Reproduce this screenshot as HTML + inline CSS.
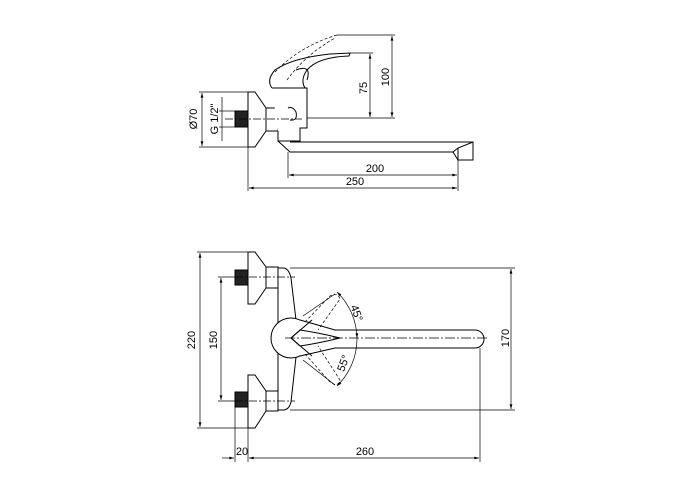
<!DOCTYPE html>
<html><head><meta charset="utf-8"><style>html,body{margin:0;padding:0;background:#fff}svg{display:block}text{font-family:"Liberation Sans",sans-serif;font-size:11px;fill:#000}</style></head><body>
<svg width="700" height="500" viewBox="0 0 700 500" xmlns="http://www.w3.org/2000/svg">
<defs><marker id="a" viewBox="0 0 10 6" refX="10" refY="3" markerWidth="8" markerHeight="4" orient="auto-start-reverse"><path d="M0,0L10,3L0,6z" fill="#000"/></marker></defs>
<g fill="none" stroke="#000" stroke-width="1">
<!-- TOP VIEW -->
<path d="M248,92 L255,92 L266,108 L266,131 L255,147 L248,147 Z" fill="#fff"/>
<rect x="266" y="108" width="12" height="23" fill="#fff"/>
<rect x="235" y="111" width="13" height="16" fill="#222"/>
<path d="M272,88 L307,88 L307,128 L300,128 L300,141 L278,141 L278,131" fill="#fff"/>
<path d="M290,120 Q298,121 296,112 Q293,106 288,108"/>
<path d="M278,141 L290,152 L453,152 L458,160 L473,160 L473,142 L290,142"/>
<path d="M453,152 L458,148 L473,142"/>
<line x1="458" y1="148" x2="458" y2="160"/>
<!-- handle -->
<path d="M272,88 Q266,80 275,70 Q292,58 330,54 L350,53 L349,56 Q318,57 307,70 Q300,80 305,88"/>
<path d="M296,70 Q312,64 307,80" />
<path d="M275,72 Q300,46 337,35" stroke-dasharray="3,2" stroke-width="0.7"/>
<path d="M287,80 Q305,55 335,38" stroke-dasharray="3,2" stroke-width="0.7"/>
<!-- dims top -->
<g stroke-width="0.7">
<line x1="337" y1="35" x2="395" y2="35"/><line x1="307" y1="118" x2="395" y2="118"/>
<line x1="350" y1="53" x2="373" y2="53"/>
<line x1="392" y1="36" x2="392" y2="117" marker-start="url(#a)" marker-end="url(#a)"/>
<line x1="370" y1="54" x2="370" y2="117" marker-start="url(#a)" marker-end="url(#a)"/>
<line x1="199" y1="92" x2="248" y2="92"/><line x1="199" y1="147" x2="248" y2="147"/>
<line x1="202" y1="93" x2="202" y2="146" marker-start="url(#a)" marker-end="url(#a)"/>
<line x1="222" y1="97" x2="222" y2="141"/>
<line x1="219" y1="111" x2="235" y2="111"/><line x1="219" y1="127" x2="235" y2="127"/>
<line x1="225" y1="119" x2="302" y2="119" stroke-dasharray="8,2,2,2"/>
<line x1="248" y1="147" x2="248" y2="191"/><line x1="288" y1="152" x2="288" y2="178"/><line x1="458" y1="160" x2="458" y2="191"/>
<line x1="289" y1="175" x2="457" y2="175" marker-start="url(#a)" marker-end="url(#a)"/>
<line x1="249" y1="188" x2="457" y2="188" marker-start="url(#a)" marker-end="url(#a)"/>
</g>
<!-- BOTTOM VIEW -->
<path d="M248,252 L255,252 L266,267 L266,288 L255,304 L248,304 Z" fill="#fff"/>
<rect x="266" y="267" width="12" height="21" fill="#fff"/>
<rect x="235" y="270" width="13" height="15" fill="#222"/>
<path d="M248,375 L255,375 L266,391 L266,411 L255,428 L248,428 Z" fill="#fff"/>
<rect x="266" y="391" width="12" height="20" fill="#fff"/>
<rect x="235" y="392" width="13" height="15" fill="#222"/>
<line x1="278" y1="267" x2="278" y2="411"/>
<path d="M278,268 L284,268 Q289,269 291,278 L296,320"/>
<path d="M296,357 L291,402 Q289,410 283,410 L278,410"/>
<circle cx="291" cy="338" r="20" fill="#fff"/>
<path d="M300,320 Q318,325 335,330 L475,330 A9,9 0 0 1 475,348 L335,348 Q318,352 300,356" fill="#fff"/>
<path d="M291,338 L312,320 M291,338 L312,356"/>
<path d="M291,338 L300,330 Q320,333 340,338 Q320,343 300,346 Z"/>
<path d="M305,322 L330,296 Q338,292 340,299 L318,330" stroke-dasharray="3,2" stroke-width="0.7"/>
<path d="M305,354 L330,382 Q338,388 340,380 L318,346" stroke-dasharray="3,2" stroke-width="0.7"/>
<line x1="303" y1="316" x2="335" y2="294" stroke-width="0.7"/>
<line x1="303" y1="360" x2="335" y2="385" stroke-width="0.7"/>
<g stroke-width="0.7">
<line x1="235" y1="277" x2="295" y2="277" stroke-dasharray="8,2,2,2"/>
<line x1="235" y1="401" x2="295" y2="401" stroke-dasharray="8,2,2,2"/>
<line x1="285" y1="338" x2="488" y2="338" stroke-dasharray="10,2,2,2"/>
<path d="M337,292 A66,66 0 0 1 357,338" marker-start="url(#a)" marker-end="url(#a)"/>
<path d="M357,338 A66,66 0 0 1 337,386" marker-end="url(#a)"/>
<line x1="197" y1="252" x2="248" y2="252"/><line x1="197" y1="428" x2="248" y2="428"/>
<line x1="200" y1="253" x2="200" y2="427" marker-start="url(#a)" marker-end="url(#a)"/>
<line x1="218" y1="277" x2="235" y2="277"/><line x1="218" y1="401" x2="235" y2="401"/>
<line x1="221" y1="278" x2="221" y2="400" marker-start="url(#a)" marker-end="url(#a)"/>
<line x1="290" y1="268" x2="515" y2="268"/><line x1="290" y1="410" x2="515" y2="410"/>
<line x1="511" y1="269" x2="511" y2="409" marker-start="url(#a)" marker-end="url(#a)"/>
<line x1="235" y1="407" x2="235" y2="462"/><line x1="248" y1="428" x2="248" y2="462"/><line x1="480" y1="348" x2="480" y2="462"/>
<line x1="222" y1="458" x2="234" y2="458" marker-end="url(#a)"/>
<line x1="249" y1="458" x2="479" y2="458" marker-start="url(#a)" marker-end="url(#a)"/>
</g>
</g>
<text x="385" y="77" text-anchor="middle" transform="rotate(-90 385 77)" dy="4">100</text>
<text x="363" y="88" text-anchor="middle" transform="rotate(-90 363 88)" dy="4">75</text>
<text x="193" y="119" text-anchor="middle" transform="rotate(-90 193 119)" dy="4">Ø70</text>
<text x="214" y="119" text-anchor="middle" transform="rotate(-90 214 119)" dy="4">G 1/2"</text>
<text x="375" y="172" text-anchor="middle">200</text>
<text x="355" y="185" text-anchor="middle">250</text>
<text x="191" y="340" text-anchor="middle" transform="rotate(-90 191 340)" dy="4">220</text>
<text x="213" y="340" text-anchor="middle" transform="rotate(-90 213 340)" dy="4">150</text>
<text x="505" y="338" text-anchor="middle" transform="rotate(-90 505 338)" dy="4">170</text>
<text x="357" y="313" text-anchor="middle" transform="rotate(70 357 313)" dy="4">45°</text>
<text x="343" y="363" text-anchor="middle" transform="rotate(-70 343 363)" dy="4">55°</text>
<text x="242" y="455" text-anchor="middle">20</text>
<text x="365" y="455" text-anchor="middle">260</text>
</svg>
</body></html>
